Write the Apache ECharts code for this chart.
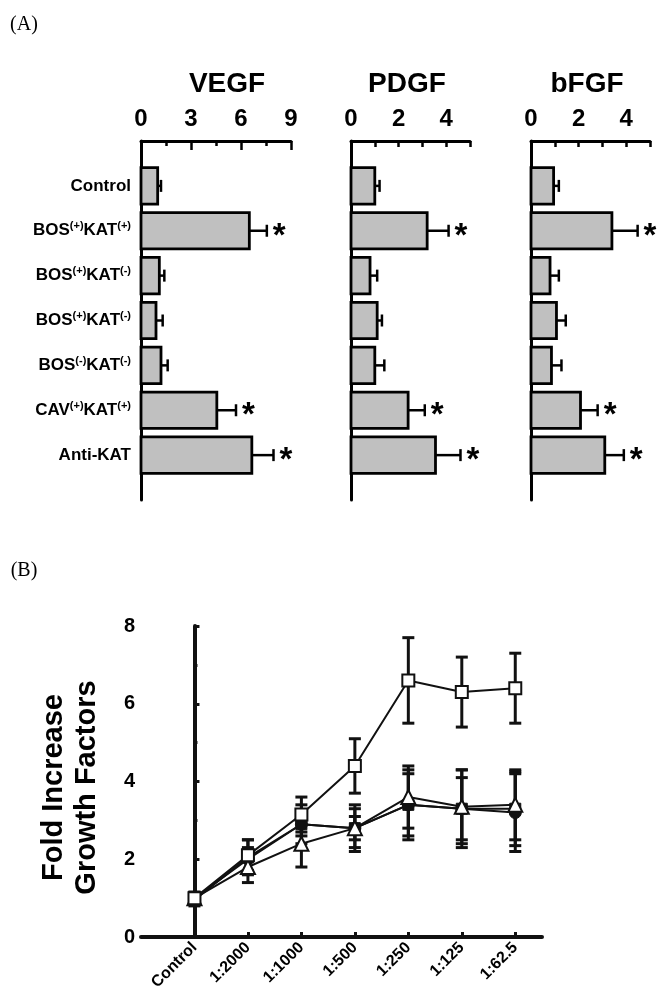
<!DOCTYPE html>
<html>
<head>
<meta charset="utf-8">
<script src="https://cdn.jsdelivr.net/npm/echarts@6.0.0/dist/echarts.min.js"></script>
<style>
  html, body { margin: 0; padding: 0; background: #fff; }
  #chart { width: 663px; height: 1004px; }
</style>
</head>
<body>
<div id="chart"></div>
<script>
  // panel A: treatment groups
  const groupsA = ['Control', 'BOS(+)KAT(+)', 'BOS(+)KAT(-)', 'BOS(+)KAT(-)', 'BOS(-)KAT(-)', 'CAV(+)KAT(+)', 'Anti-KAT'];
  const starred = [0, 1, 0, 0, 0, 1, 1];
  const vegfMean = [1.0, 6.5, 1.1, 0.9, 1.2, 4.55, 6.65];
  const vegfErr = [0.2, 1.05, 0.3, 0.4, 0.4, 1.15, 1.3];
  const pdgfMean = [1.0, 3.2, 0.8, 1.1, 1.0, 2.4, 3.55];
  const pdgfErr = [0.2, 0.9, 0.3, 0.2, 0.4, 0.7, 1.05];
  const bfgfMean = [0.95, 3.4, 0.8, 1.07, 0.86, 2.08, 3.1];
  const bfgfErr = [0.22, 1.08, 0.37, 0.39, 0.42, 0.72, 0.8];

  // panel B: dilutions
  const dilutions = ['Control', '1:2000', '1:1000', '1:500', '1:250', '1:125', '1:62.5'];
  const filledSqMean = [0.95, 2.05, 2.9, 2.8, 3.4, 3.3, 3.3];
  const filledSqErr = [0.15, 0.45, 0.5, 0.5, 0.9, 1.0, 0.95];
  const circleMean = [1.0, 2.0, 2.9, 2.8, 3.4, 3.3, 3.2];
  const circleErr = [0.15, 0.3, 0.3, 0.3, 0.8, 0.8, 1.0];
  const triMean = [1.0, 1.8, 2.4, 2.8, 3.6, 3.35, 3.4];
  const triErr = [0.15, 0.4, 0.6, 0.6, 0.8, 0.95, 0.9];
  const openSqMean = [1.0, 2.1, 3.15, 4.4, 6.6, 6.3, 6.4];
  const openSqErr = [0.15, 0.4, 0.45, 0.7, 1.1, 0.9, 0.9];

  const FONT = '"Liberation Sans", Arial, sans-serif';
  const chart = echarts.init(document.getElementById('chart'));

  // horizontal bar + error bar + star, drawn with the grid's own scales
  function barItem(params, api) {
    const v = api.value(0), k = api.value(1), e = api.value(2), sig = api.value(3);
    const p0 = api.coord([0, k]);
    const p1 = api.coord([v, k]);
    const p2 = api.coord([v + e, k]);
    const h = api.size([0, 1])[1] * 0.81;
    const kids = [
      { type: 'line', shape: { x1: p1[0], y1: p1[1], x2: p2[0], y2: p2[1] }, style: { stroke: '#000', lineWidth: 2.5 } },
      { type: 'line', shape: { x1: p2[0], y1: p2[1] - 6, x2: p2[0], y2: p2[1] + 6 }, style: { stroke: '#000', lineWidth: 2.5 } },
      { type: 'rect', shape: { x: p0[0], y: p0[1] - h / 2, width: p1[0] - p0[0], height: h },
        style: { fill: '#c0c0c0', stroke: '#000', lineWidth: 2.8 } }
    ];
    if (sig) {
      kids.push({ type: 'text', x: p2[0] + 6, y: p2[1] + 6,
        style: { text: '*', fill: '#000', font: 'bold 33px ' + FONT, align: 'left', verticalAlign: 'middle' } });
    }
    return { type: 'group', children: kids };
  }

  function errItem(params, api) {
    const i = api.value(0), m = api.value(1), e = api.value(2);
    const top = api.coord([i, m + e]);
    const bot = api.coord([i, m - e]);
    const st = { stroke: '#111', lineWidth: 3 };
    return { type: 'group', children: [
      { type: 'line', shape: { x1: top[0], y1: top[1], x2: bot[0], y2: bot[1] }, style: st },
      { type: 'line', shape: { x1: top[0] - 6, y1: top[1], x2: top[0] + 6, y2: top[1] }, style: st },
      { type: 'line', shape: { x1: bot[0] - 6, y1: bot[1], x2: bot[0] + 6, y2: bot[1] }, style: st }
    ] };
  }

  function barData(mean, err) {
    return mean.map((v, i) => [v, i + 1, err[i], starred[i]]);
  }
  function pts(mean) {
    return mean.map((v, i) => [i, v]);
  }
  function errData(mean, err) {
    return mean.map((v, i) => [i, v, err[i]]);
  }

  function groupLabel(s) {
    return '{b|' + s.replace(/\(([+-])\)/g, '}{s|($1)}{b|') + '}';
  }

  const topAxis = (gi, max, interval, labels, minor) => ({
    type: 'value', gridIndex: gi, position: 'top', min: 0, max: max, interval: interval,
    axisLine: { show: true, lineStyle: { color: '#000', width: 3 } },
    axisTick: { show: true, inside: true, length: minor ? 9 : 6, lineStyle: { color: '#000', width: 2.5 } },
    minorTick: { show: !!minor, splitNumber: 2, length: 5, lineStyle: { color: '#000', width: 2.5 } },
    axisLabel: { customValues: labels, margin: 10, color: '#000', fontSize: 24, fontWeight: 'bold', fontFamily: FONT },
    splitLine: { show: false }
  });

  const sideAxis = (gi, withLabels) => ({
    type: 'value', gridIndex: gi, inverse: true, min: 0, max: 8, interval: 1,
    axisLine: { show: true, lineStyle: { color: '#000', width: 3 } },
    axisTick: { show: false },
    splitLine: { show: false },
    axisLabel: {
      show: withLabels, customValues: [1, 2, 3, 4, 5, 6, 7], margin: 10,
      formatter: v => groupLabel(groupsA[v - 1] || ''),
      rich: {
        b: { fontSize: 17, fontWeight: 'bold', fontFamily: FONT, color: '#000', lineHeight: 20 },
        s: { fontSize: 11, fontWeight: 'bold', fontFamily: FONT, color: '#000', verticalAlign: 'top', lineHeight: 20 }
      }
    }
  });

  const title = (text, x, y, font) => ({
    type: 'text', x: x, y: y,
    style: { text: text, fill: '#000', font: font, align: 'center', verticalAlign: 'middle' }
  });

  chart.setOption({
    animation: false,
    graphic: [
      title('(A)', 24, 25, '20px "Liberation Serif", serif'),
      title('(B)', 24, 571, '20px "Liberation Serif", serif'),
      title('VEGF', 227, 84, 'bold 28px ' + FONT),
      title('PDGF', 407, 84, 'bold 28px ' + FONT),
      title('bFGF', 587, 84, 'bold 28px ' + FONT)
    ],
    grid: [
      { left: 141, top: 141, width: 150, height: 359 },
      { left: 351, top: 141, width: 119, height: 359 },
      { left: 531, top: 141, width: 119, height: 359 },
      { left: 141, top: 626, width: 401, height: 311 }
    ],
    xAxis: [
      topAxis(0, 9, 3, [0, 3, 6, 9], true),
      topAxis(1, 5, 1, [0, 2, 4], false),
      topAxis(2, 5, 1, [0, 2, 4], false),
      {
        type: 'value', gridIndex: 3, min: -1, max: 6.5,
        axisLine: { show: true, lineStyle: { color: '#111', width: 4 } },
        axisTick: { show: true, inside: true, length: 5, customValues: [0, 1, 2, 3, 4, 5, 6], lineStyle: { color: '#111', width: 3 } },
        axisLabel: {
          customValues: [0, 1, 2, 3, 4, 5, 6], rotate: 45, margin: 8,
          formatter: v => dilutions[v] || '',
          color: '#000', fontSize: 16, fontWeight: 'bold', fontFamily: FONT
        },
        splitLine: { show: false }
      }
    ],
    yAxis: [
      sideAxis(0, true),
      sideAxis(1, false),
      sideAxis(2, false),
      {
        type: 'value', gridIndex: 3, min: 0, max: 8, interval: 2,
        name: 'Fold Increase\nGrowth Factors', nameLocation: 'middle', nameRotate: 90, nameGap: 38,
        nameTextStyle: { color: '#000', fontSize: 29, fontWeight: 'bold', fontFamily: FONT, lineHeight: 33, padding: [0, 12, 0, 0] },
        axisLine: { show: true, lineStyle: { color: '#111', width: 4 } },
        axisTick: { show: true, inside: true, length: 5, lineStyle: { color: '#111', width: 3 } },
        minorTick: { show: true, splitNumber: 2, length: 3, lineStyle: { color: '#111', width: 3 } },
        axisLabel: { margin: 6, color: '#000', fontSize: 20, fontWeight: 'bold', fontFamily: FONT },
        splitLine: { show: false }
      }
    ],
    series: [
      { type: 'custom', xAxisIndex: 0, yAxisIndex: 0, renderItem: barItem, encode: { x: 0, y: 1 }, data: barData(vegfMean, vegfErr) },
      { type: 'custom', xAxisIndex: 1, yAxisIndex: 1, renderItem: barItem, encode: { x: 0, y: 1 }, data: barData(pdgfMean, pdgfErr) },
      { type: 'custom', xAxisIndex: 2, yAxisIndex: 2, renderItem: barItem, encode: { x: 0, y: 1 }, data: barData(bfgfMean, bfgfErr) },

      // panel B error bars
      { type: 'custom', xAxisIndex: 3, yAxisIndex: 3, renderItem: errItem, encode: { x: 0, y: 1 }, z: 1, data: errData(filledSqMean, filledSqErr) },
      { type: 'custom', xAxisIndex: 3, yAxisIndex: 3, renderItem: errItem, encode: { x: 0, y: 1 }, z: 1, data: errData(circleMean, circleErr) },
      { type: 'custom', xAxisIndex: 3, yAxisIndex: 3, renderItem: errItem, encode: { x: 0, y: 1 }, z: 1, data: errData(triMean, triErr) },
      { type: 'custom', xAxisIndex: 3, yAxisIndex: 3, renderItem: errItem, encode: { x: 0, y: 1 }, z: 1, data: errData(openSqMean, openSqErr) },

      // panel B lines
      { type: 'line', xAxisIndex: 3, yAxisIndex: 3, z: 3, data: pts(filledSqMean), symbol: 'rect', symbolSize: 11,
        lineStyle: { color: '#111', width: 2 }, itemStyle: { color: '#111', borderColor: '#111', borderWidth: 1 } },
      { type: 'line', xAxisIndex: 3, yAxisIndex: 3, z: 3, data: pts(circleMean), symbol: 'circle', symbolSize: 12,
        lineStyle: { color: '#111', width: 2 }, itemStyle: { color: '#111', borderColor: '#111', borderWidth: 1 } },
      { type: 'line', xAxisIndex: 3, yAxisIndex: 3, z: 3, data: pts(triMean), symbol: 'triangle', symbolSize: 14,
        lineStyle: { color: '#111', width: 2 }, itemStyle: { color: '#fff', borderColor: '#111', borderWidth: 2 } },
      { type: 'line', xAxisIndex: 3, yAxisIndex: 3, z: 3, data: pts(openSqMean), symbol: 'rect', symbolSize: 12,
        lineStyle: { color: '#111', width: 2 }, itemStyle: { color: '#fff', borderColor: '#111', borderWidth: 2 } }
    ]
  });
</script>
</body>
</html>
